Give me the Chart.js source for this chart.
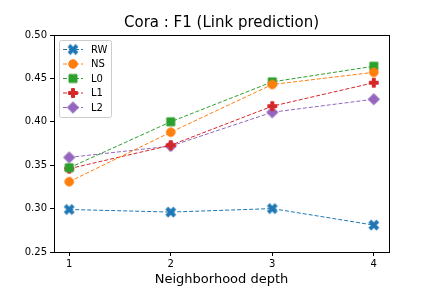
<!DOCTYPE html>
<html>
<head>
<meta charset="utf-8">
<script src="https://cdn.jsdelivr.net/npm/chart.js@4/dist/chart.umd.min.js"></script>
<style>
  html, body { margin: 0; padding: 0; background: #fff; }
  #wrap { width: 432px; height: 288px; }
</style>
</head>
<body>
<div id="wrap"><canvas id="chart" width="432" height="288"></canvas></div>
<script>
// neighborhood depths and F1 scores
const depths = [1, 2, 3, 4];
const rwScores = [0.299, 0.296, 0.300, 0.281];
const nsScores = [0.331, 0.388, 0.443, 0.457];
const l0Scores = [0.347, 0.400, 0.446, 0.464];
const l1Scores = [0.346, 0.373, 0.418, 0.445];
const l2Scores = [0.359, 0.372, 0.411, 0.426];
const yTicks = [0.25, 0.30, 0.35, 0.40, 0.45, 0.50];
const seriesNames = ['RW', 'NS', 'L0', 'L1', 'L2'];
const seriesColors = ['#1f77b4', '#ff7f0e', '#2ca02c', '#d62728', '#9467bd'];
const seriesMarkers = ['X', 'o', 's', 'P', 'D'];
const chartTitle = 'Cora : F1 (Link prediction)';

const FONT = "'DejaVu Sans', sans-serif";

// build a small canvas for each marker, like matplotlib's filled markers
function makeMarker(kind, color) {
    const size = 14;
    const c = document.createElement('canvas');
    c.width = size; c.height = size;
    const ctx = c.getContext('2d');
    ctx.fillStyle = color;
    ctx.strokeStyle = color;
    ctx.lineWidth = 1;
    ctx.translate(size / 2, size / 2);
    ctx.beginPath();
    if (kind === 'o') {
        ctx.arc(0, 0, 4.3, 0, Math.PI * 2);
    } else if (kind === 's') {
        ctx.rect(-4, -4, 8, 8);
    } else if (kind === 'D') {
        ctx.moveTo(0, -5.6); ctx.lineTo(5.6, 0); ctx.lineTo(0, 5.6); ctx.lineTo(-5.6, 0);
        ctx.closePath();
    } else {
        // plus shape; rotated for X
        if (kind === 'X') ctx.rotate(Math.PI / 4);
        const a = kind === 'X' ? 5.2 : 4.4, w = 1.5;
        ctx.moveTo(-w, -a); ctx.lineTo(w, -a); ctx.lineTo(w, -w); ctx.lineTo(a, -w);
        ctx.lineTo(a, w); ctx.lineTo(w, w); ctx.lineTo(w, a); ctx.lineTo(-w, a);
        ctx.lineTo(-w, w); ctx.lineTo(-a, w); ctx.lineTo(-a, -w); ctx.lineTo(-w, -w);
        ctx.closePath();
    }
    ctx.fill();
    ctx.stroke();
    return c;
}

const allScores = [rwScores, nsScores, l0Scores, l1Scores, l2Scores];
const markerImgs = seriesMarkers.map((m, i) => makeMarker(m, seriesColors[i]));

const datasets = allScores.map((scores, i) => ({
    label: seriesNames[i],
    data: depths.map((d, j) => ({ x: d, y: scores[j] })),
    borderColor: seriesColors[i],
    backgroundColor: seriesColors[i],
    borderWidth: 1,
    borderDash: [4, 2],
    pointStyle: markerImgs[i],
    pointRadius: 6,
    tension: 0
}));

// top/right spines + title centred over the plot area
const frame = {
    id: 'frame',
    afterDatasetsDraw(chart) {
        const { ctx, chartArea: a } = chart;
        ctx.save();
        ctx.strokeStyle = '#000';
        ctx.lineWidth = 1;
        ctx.strokeRect(Math.round(a.left) + 0.5, Math.round(a.top) + 0.5,
            Math.round(a.right - a.left), Math.round(a.bottom - a.top));
        ctx.fillStyle = '#000';
        ctx.font = '15px ' + FONT;
        ctx.textAlign = 'center';
        ctx.textBaseline = 'middle';
        ctx.fillText(chartTitle, (a.left + a.right) / 2, a.top - 12);
        ctx.restore();
    }
};

// matplotlib style legend in the upper left
const boxLegend = {
    id: 'boxLegend',
    afterDraw(chart) {
        const { ctx, chartArea: a } = chart;
        const x0 = a.left + 5, y0 = a.top + 5;
        const w = 52, h = 77;
        ctx.save();
        ctx.globalAlpha = 0.8;
        ctx.fillStyle = '#fff';
        ctx.strokeStyle = '#cccccc';
        ctx.lineWidth = 1;
        ctx.beginPath();
        ctx.roundRect(x0 + 0.5, y0 + 0.5, w, h, 2);
        ctx.fill();
        ctx.globalAlpha = 1;
        ctx.stroke();
        ctx.font = '10px ' + FONT;
        ctx.textBaseline = 'middle';
        seriesNames.forEach((name, i) => {
            const y = y0 + 9.5 + i * 14.5;
            ctx.strokeStyle = seriesColors[i];
            ctx.setLineDash([4, 2]);
            ctx.beginPath();
            ctx.moveTo(x0 + 4, y); ctx.lineTo(x0 + 24, y);
            ctx.stroke();
            ctx.setLineDash([]);
            const img = markerImgs[i];
            ctx.drawImage(img, x0 + 14 - img.width / 2, y - img.height / 2);
            ctx.fillStyle = '#000';
            ctx.fillText(name, x0 + 32, y + 0.5);
        });
        ctx.restore();
    }
};

new Chart(document.getElementById('chart'), {
    type: 'line',
    data: { datasets },
    options: {
        responsive: false,
        animation: false,
        events: [],
        layout: { padding: { left: 0, right: 43, top: 35, bottom: 0 } },
        plugins: {
            legend: { display: false },
            tooltip: { enabled: false },
            title: { display: false }
        },
        scales: {
            x: {
                type: 'linear',
                min: 0.85,
                max: 4.15,
                afterBuildTicks: s => { s.ticks = depths.map(v => ({ value: v })); },
                afterFit: s => { s.height = 36; },
                grid: { drawOnChartArea: false, drawTicks: true, tickLength: 4, color: '#000' },
                border: { display: true, color: '#000', width: 1 },
                ticks: {
                    color: '#000',
                    font: { family: FONT, size: 10 },
                    padding: 2,
                    maxRotation: 0,
                    callback: v => String(v)
                },
                title: {
                    display: true,
                    text: 'Neighborhood depth',
                    color: '#000',
                    font: { family: FONT, size: 13 },
                    padding: { top: 0, bottom: 1 }
                }
            },
            y: {
                min: 0.25,
                max: 0.50,
                afterBuildTicks: s => { s.ticks = yTicks.map(v => ({ value: v })); },
                afterFit: s => { s.width = 54; },
                grid: { drawOnChartArea: false, drawTicks: true, tickLength: 4, color: '#000' },
                border: { display: true, color: '#000', width: 1 },
                ticks: {
                    color: '#000',
                    font: { family: FONT, size: 10 },
                    padding: 3,
                    callback: v => Number(v).toFixed(2)
                }
            }
        }
    },
    plugins: [frame, boxLegend]
});
</script>
</body>
</html>
